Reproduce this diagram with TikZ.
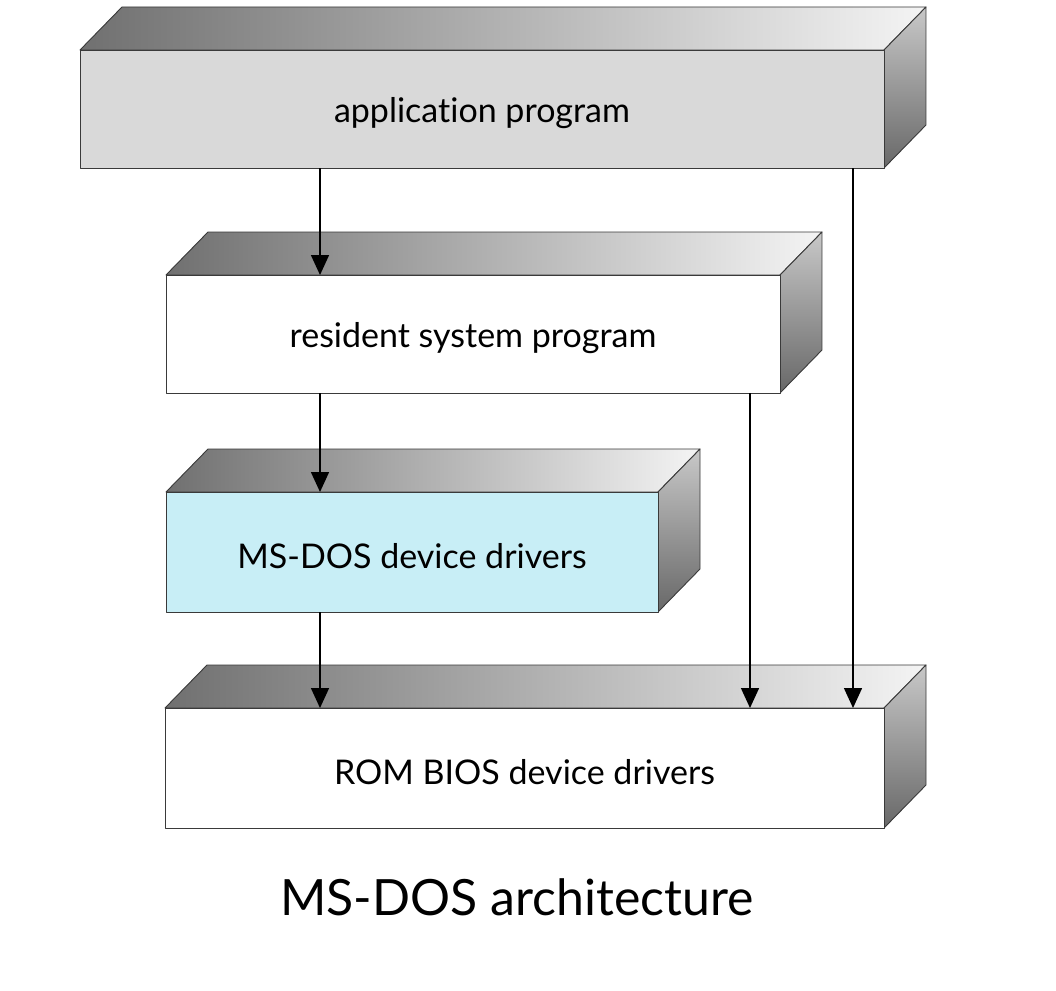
\documentclass[tikz,border=0pt]{standalone}
\usepackage{fontspec}
\setmainfont{Lato}[Ligatures=CommonOff]
\usetikzlibrary{arrows.meta}
\definecolor{topdark}{HTML}{707070}
\definecolor{toplight}{HTML}{F4F4F4}
\definecolor{sidelight}{HTML}{C8C8C8}
\definecolor{sidedark}{HTML}{686868}
\definecolor{edge}{HTML}{3A3A3A}
\definecolor{appgray}{HTML}{D9D9D9}
\definecolor{drvcyan}{HTML}{C8EEF6}
\tikzset{
  face/.style={draw=edge, line width=0.9pt, line join=round},
  front/.style={face, anchor=north west, inner sep=0pt, outer sep=0pt},
  lbl/.style={font=\fontsize{34}{40}\selectfont, inner sep=0pt},
  arr/.style={line width=1.5pt, -{Triangle[width=18pt,length=20pt]}},
  title/.style={font=\fontsize{50}{60}\selectfont, anchor=base}
}
\newcommand{\slab}[7]{%
  \shadedraw[face, left color=topdark, right color=toplight]
    (#2,#3) -- ++(42,-43) -- ({#4+42},{#3-43}) -- (#4,#3) -- cycle;
  \shadedraw[face, top color=sidelight, bottom color=sidedark]
    (#4,#3) -- ({#4+42},{#3-43}) -- ({#4+42},{#5-43}) -- (#4,#5) -- cycle;
  \node[front, fill=#6, minimum width={(#4-#2)*1pt}, minimum height={(#5-#3)*1pt}]
    (#1) at (#2,#3) {};
  \node[lbl] (#1-t) at ([yshift=-4pt]#1.center) {#7};
}
\begin{document}
\begin{tikzpicture}[x=1pt,y=-1pt]
\useasboundingbox (0,0) rectangle (1056,990);
\slab{app}{80}{50}{884}{168}{appgray}{application program}
\slab{res}{166}{275}{780}{393}{white}{resident system program}
\slab{drv}{166}{492}{658}{612}{drvcyan}{MS-DOS device drivers}
\slab{bios}{165}{708}{884}{828}{white}{ROM BIOS device drivers}
\coordinate (ax1) at (320,0);
\coordinate (ax2) at (750,0);
\coordinate (ax3) at (853,0);
\draw[arr] (app.south -| ax1) -- (res.north -| ax1);
\draw[arr] (res.south -| ax1) -- (drv.north -| ax1);
\draw[arr] (drv.south -| ax1) -- (bios.north -| ax1);
\draw[arr] (res.south -| ax2) -- (bios.north -| ax2);
\draw[arr] (app.south -| ax3) -- (bios.north -| ax3);
\node[title] (ttl) at (517,915) {MS-DOS architecture};
\end{tikzpicture}
\end{document}
